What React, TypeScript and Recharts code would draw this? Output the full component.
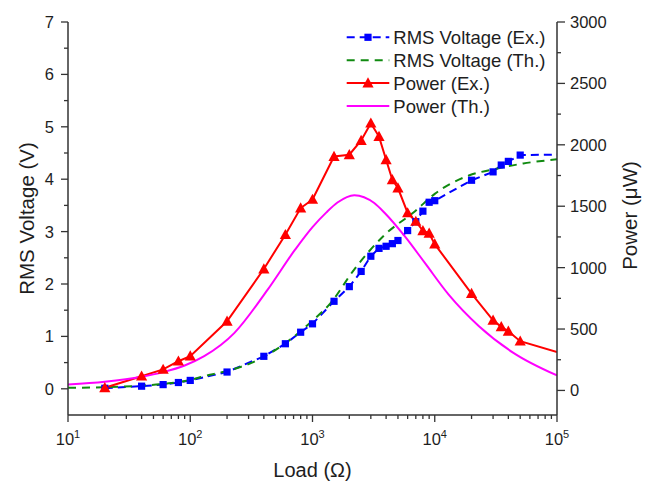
import React from 'react';
import { ComposedChart, Line, XAxis, YAxis } from 'recharts';

const FONT = '"Liberation Sans", Arial, Helvetica, sans-serif';
const INK = '#1e1e1e';
const AXIS = '#333333';
const BLUE = '#0000ff';
const GREEN = '#108a10';
const RED = '#ff0000';
const MAGENTA = '#ff00ff';

// experimental sweep, load in ohm
const exLoads = [20, 40, 60, 80, 100, 200, 400, 600, 800, 1000, 1500, 2000, 2500, 3000, 3500, 4000, 4500, 5000, 6000, 7000, 8000, 9000, 10000, 20000, 30000, 35000, 40000, 50000, 100000];
const exVoltage = [0.01, 0.05, 0.08, 0.12, 0.16, 0.32, 0.62, 0.86, 1.08, 1.24, 1.67, 1.95, 2.24, 2.53, 2.68, 2.72, 2.77, 2.83, 3.02, 3.19, 3.39, 3.56, 3.59, 3.98, 4.14, 4.27, 4.34, 4.46, 4.47];
const exPower = [22, 116, 171, 238, 279, 563, 989, 1268, 1485, 1555, 1905, 1919, 2035, 2176, 2067, 1878, 1715, 1648, 1445, 1376, 1300, 1280, 1191, 789, 571, 518, 482, 401, 312];

// theoretical curves
const thVLoads = [10, 20, 40, 70, 100, 130, 200, 320, 600, 1000, 1400, 2200, 3900, 6900, 10000, 19000, 32000, 53000, 100000];
const thVoltage = [0.02, 0.03, 0.06, 0.11, 0.17, 0.24, 0.34, 0.5, 0.87, 1.3, 1.63, 2.28, 2.94, 3.39, 3.72, 4.07, 4.2, 4.3, 4.38];
const thPLoads = [10, 20, 40, 60, 90, 130, 230, 430, 720, 1000, 1300, 1600, 2200, 3200, 3900, 5700, 8300, 13000, 23000, 44000, 100000];
const thPower = [49, 71, 111, 149, 203, 279, 469, 821, 1146, 1330, 1450, 1530, 1590, 1526, 1445, 1254, 1038, 780, 523, 306, 122];

// axes
const X_MIN = 10;
const X_MAX = 100000;
const xMajor = [10, 100, 1000, 10000, 100000];
const xMinorSteps = [2, 3, 4, 5, 6, 7, 8, 9];
const vTicks = [0, 0.5, 1, 1.5, 2, 2.5, 3, 3.5, 4, 4.5, 5, 5.5, 6, 6.5, 7];
const pTicks = [0, 250, 500, 750, 1000, 1250, 1500, 1750, 2000, 2250, 2500, 2750, 3000];

const legendRows = [
  { label: 'RMS Voltage (Ex.)', color: BLUE, dash: '8 5', mark: 'square' },
  { label: 'RMS Voltage (Th.)', color: GREEN, dash: '8 6', mark: 'none' },
  { label: 'Power (Ex.)', color: RED, dash: undefined, mark: 'triangle' },
  { label: 'Power (Th.)', color: MAGENTA, dash: undefined, mark: 'none' },
];

const xTicks = [
  ...xMajor,
  ...xMajor.slice(0, -1).flatMap((d) => xMinorSteps.map((m) => m * d)),
].sort((a, b) => a - b);

const exRows = exLoads.map((r, i) => ({ r, v: exVoltage[i], p: exPower[i] }));
const thVRows = thVLoads.map((r, i) => ({ r, v: thVoltage[i] }));
const thPRows = thPLoads.map((r, i) => ({ r, p: thPower[i] }));

const TICK = 7;
const MINOR = 4;
const TICK_FONT = 16.5;

const SquareDot = (props: any) => {
  const { cx, cy, payload, index } = props;
  // the point at the right border has its marker clipped in the original
  if (cx == null || payload.r >= X_MAX) return <g key={`s${index}`} />;
  return <rect key={`s${index}`} x={cx - 3.6} y={cy - 3.6} width={7.2} height={7.2} fill={BLUE} />;
};

const TriangleDot = (props: any) => {
  const { cx, cy, payload, index } = props;
  if (cx == null || payload.r >= X_MAX) return <g key={`t${index}`} />;
  return (
    <polygon
      key={`t${index}`}
      points={`${cx},${cy - 5.8} ${cx - 5.6},${cy + 4.4} ${cx + 5.6},${cy + 4.4}`}
      fill={RED}
    />
  );
};

const XTick = (props: any) => {
  const { x, y, payload } = props;
  const v = payload.value;
  const major = xMajor.includes(v);
  const axisY = y - 8 - TICK;
  return (
    <g>
      <line x1={x} x2={x} y1={axisY} y2={axisY + (major ? TICK : MINOR)} stroke={AXIS} strokeWidth={1.3} />
      {major && (
        <text x={x} y={y + 15} textAnchor="middle" fill={INK} fontSize={TICK_FONT} fontFamily={FONT}>
          10
          <tspan dy={-7} fontSize={11}>{Math.round(Math.log10(v))}</tspan>
        </text>
      )}
    </g>
  );
};

const LeftTick = (props: any) => {
  const { x, y, payload } = props;
  const v = payload.value;
  const major = Number.isInteger(v);
  const axisX = x + 7 + TICK;
  return (
    <g>
      <line x1={axisX - (major ? TICK : MINOR)} x2={axisX} y1={y} y2={y} stroke={AXIS} strokeWidth={1.3} />
      {major && (
        <text x={x} y={y} dy="0.36em" textAnchor="end" fill={INK} fontSize={TICK_FONT} fontFamily={FONT}>
          {v}
        </text>
      )}
    </g>
  );
};

const RightTick = (props: any) => {
  const { x, y, payload } = props;
  const v = payload.value;
  const major = v % 500 === 0;
  const axisX = x - 5 - 8;
  return (
    <g>
      <line x1={axisX} x2={axisX + (major ? 8 : MINOR)} y1={y} y2={y} stroke={AXIS} strokeWidth={1.3} />
      {major && (
        <text x={x} y={y} dy="0.36em" textAnchor="start" fill={INK} fontSize={TICK_FONT} fontFamily={FONT}>
          {v}
        </text>
      )}
    </g>
  );
};

const LegendBox = () => (
  <svg width={240} height={96} style={{ position: 'absolute', left: 340, top: 24 }}>
    {legendRows.map((row, i) => {
      const cy = 13.3 + i * 22.9;
      return (
        <g key={row.label}>
          <line x1={6.7} x2={49.3} y1={cy} y2={cy} stroke={row.color} strokeWidth={2} strokeDasharray={row.dash} />
          {row.mark === 'square' && <rect x={28 - 3.6} y={cy - 3.6} width={7.2} height={7.2} fill={row.color} />}
          {row.mark === 'triangle' && (
            <polygon points={`28,${cy - 5.8} ${28 - 5.6},${cy + 4.4} ${28 + 5.6},${cy + 4.4}`} fill={row.color} />
          )}
          <text x={53.3} y={cy + 6.6} fill={INK} fontSize={18.5} fontFamily={FONT}>
            {row.label}
          </text>
        </g>
      );
    })}
  </svg>
);

export default function App() {
  return (
    <div style={{ position: 'absolute', left: 0, top: 0, width: 647, height: 484, background: '#fff' }}>
      <ComposedChart width={647} height={484} margin={{ top: 22, right: 0, bottom: 0, left: 0 }}>
        <XAxis
          xAxisId="x"
          type="number"
          dataKey="r"
          scale="log"
          domain={[X_MIN, X_MAX]}
          ticks={xTicks}
          interval={0}
          height={69}
          tickSize={TICK}
          tickMargin={8}
          tickLine={false}
          tick={(p: any) => <XTick {...p} />}
          axisLine={{ stroke: AXIS, strokeWidth: 1.5 }}
          allowDataOverflow
          label={({ viewBox }: any) => (
            <text
              x={viewBox.x + viewBox.width / 2}
              y={viewBox.y + 62}
              textAnchor="middle"
              fill={INK}
              fontSize={20}
              fontFamily={FONT}
            >
              Load (Ω)
            </text>
          )}
        />
        <XAxis
          xAxisId="top"
          orientation="top"
          type="number"
          scale="log"
          domain={[X_MIN, X_MAX]}
          height={0}
          tick={false}
          tickLine={false}
          axisLine={{ stroke: AXIS, strokeWidth: 1.5 }}
          allowDataOverflow
        />
        <YAxis
          yAxisId="v"
          type="number"
          domain={[-0.5, 7]}
          ticks={vTicks}
          interval={0}
          width={68}
          tickSize={TICK}
          tickMargin={7}
          tickLine={false}
          tick={(p: any) => <LeftTick {...p} />}
          axisLine={{ stroke: AXIS, strokeWidth: 1.5 }}
          allowDataOverflow
          label={({ viewBox }: any) => {
            const cx = viewBox.x + 33.5;
            const cy = viewBox.y + viewBox.height / 2;
            return (
              <text x={cx} y={cy} textAnchor="middle" fill={INK} fontSize={20.5} fontFamily={FONT} transform={`rotate(-90, ${cx}, ${cy})`}>
                RMS Voltage (V)
              </text>
            );
          }}
        />
        <YAxis
          yAxisId="p"
          orientation="right"
          type="number"
          domain={[-200, 3000]}
          ticks={pTicks}
          interval={0}
          width={90}
          tickSize={8}
          tickMargin={5}
          tickLine={false}
          tick={(p: any) => <RightTick {...p} />}
          axisLine={{ stroke: AXIS, strokeWidth: 1.5 }}
          allowDataOverflow
          label={({ viewBox }: any) => {
            const cx = viewBox.x + 80;
            const cy = viewBox.y + viewBox.height / 2 - 3;
            return (
              <text x={cx} y={cy} textAnchor="middle" fill={INK} fontSize={20.5} fontFamily={FONT} transform={`rotate(-90, ${cx}, ${cy})`}>
                Power (μW)
              </text>
            );
          }}
        />

        <Line
          xAxisId="x"
          yAxisId="v"
          data={exRows}
          dataKey="v"
          type="linear"
          stroke={BLUE}
          strokeWidth={2}
          strokeDasharray="8 5"
          dot={SquareDot}
          activeDot={false}
          isAnimationActive={false}
        />
        <Line
          xAxisId="x"
          yAxisId="v"
          data={thVRows}
          dataKey="v"
          type="monotone"
          stroke={GREEN}
          strokeWidth={2}
          strokeDasharray="8 6"
          dot={false}
          activeDot={false}
          isAnimationActive={false}
        />
        <Line
          xAxisId="x"
          yAxisId="p"
          data={exRows}
          dataKey="p"
          type="linear"
          stroke={RED}
          strokeWidth={2}
          dot={TriangleDot}
          activeDot={false}
          isAnimationActive={false}
        />
        <Line
          xAxisId="x"
          yAxisId="p"
          data={thPRows}
          dataKey="p"
          type="monotone"
          stroke={MAGENTA}
          strokeWidth={2}
          dot={false}
          activeDot={false}
          isAnimationActive={false}
        />
      </ComposedChart>
      <LegendBox />
    </div>
  );
}
